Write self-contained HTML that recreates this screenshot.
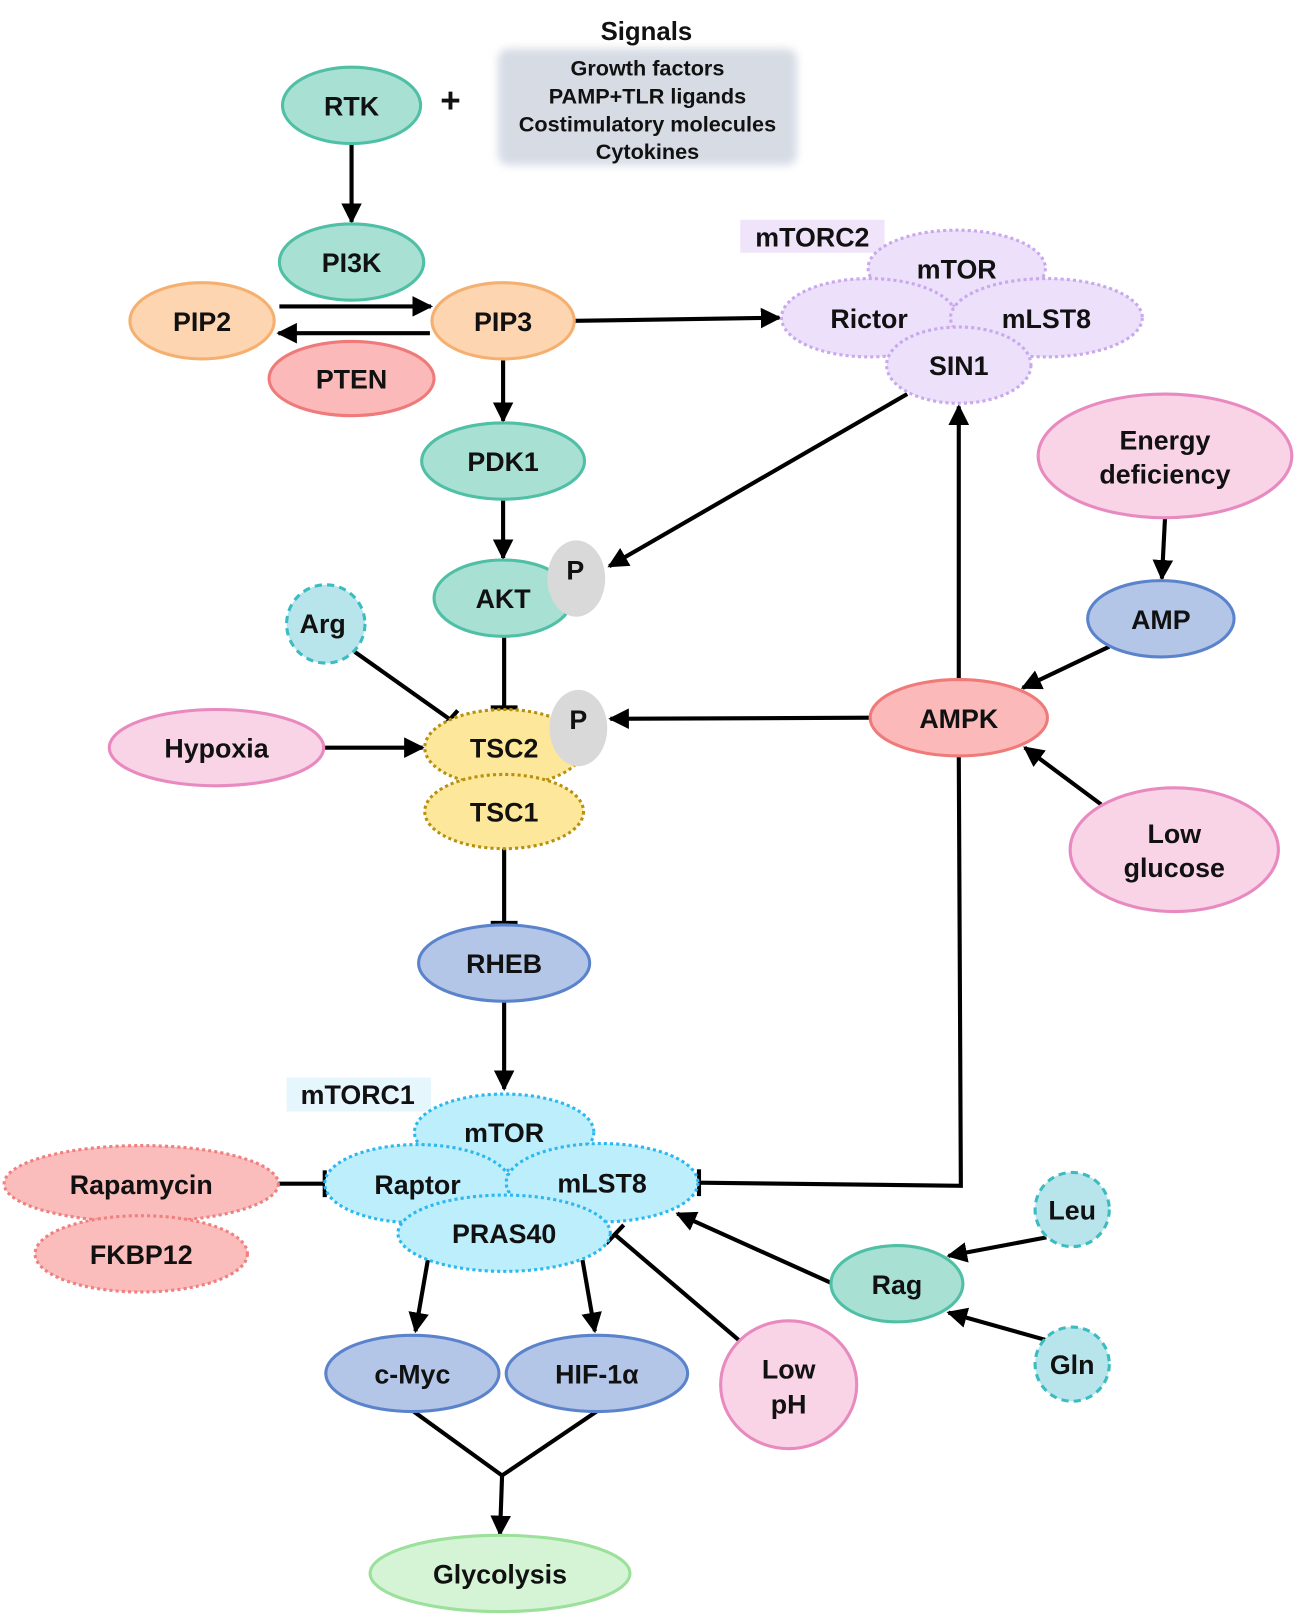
<!DOCTYPE html>
<html><head><meta charset="utf-8"><style>
html,body{margin:0;padding:0;background:#fff}
svg{display:block}
text{font-family:"Liberation Sans",sans-serif;font-weight:bold;fill:#111;text-anchor:middle;dominant-baseline:central}
</style></head><body>
<svg width="1299" height="1619" viewBox="0 0 1260 1570" xmlns="http://www.w3.org/2000/svg">
<defs>
<marker id="a" viewBox="0 0 10 10" refX="9" refY="5" markerWidth="5" markerHeight="5" orient="auto-start-reverse" markerUnits="strokeWidth"><path d="M0,0L10,5L0,10z" fill="#000"/></marker>
<filter id="bl"><feGaussianBlur stdDeviation="4"/></filter>
</defs>
<g stroke="#000" stroke-width="4" fill="none">
<line x1="341" y1="139" x2="341" y2="215" marker-end="url(#a)"/>
<line x1="271" y1="297" x2="418" y2="297" marker-end="url(#a)"/>
<line x1="417" y1="323" x2="270" y2="323" marker-end="url(#a)"/>
<line x1="558" y1="311" x2="756" y2="308" marker-end="url(#a)"/>
<line x1="488" y1="348" x2="488" y2="408" marker-end="url(#a)"/>
<line x1="488" y1="484" x2="488" y2="541" marker-end="url(#a)"/>
<line x1="880" y1="382" x2="591" y2="549" marker-end="url(#a)"/>
<line x1="489" y1="617" x2="489" y2="686"/><line x1="476" y1="686" x2="502" y2="686"/>
<line x1="344" y1="632" x2="437" y2="698"/><line x1="429" y1="706" x2="444" y2="689"/>
<line x1="314" y1="725" x2="410" y2="725" marker-end="url(#a)"/>
<line x1="845" y1="696" x2="592" y2="697" marker-end="url(#a)"/>
<line x1="930" y1="659" x2="930" y2="394" marker-end="url(#a)"/>
<line x1="1130" y1="503" x2="1127" y2="561" marker-end="url(#a)"/>
<line x1="1076" y1="627" x2="992" y2="667" marker-end="url(#a)"/>
<line x1="1068" y1="780" x2="994" y2="725" marker-end="url(#a)"/>
<line x1="489" y1="823" x2="489" y2="895"/><line x1="476" y1="895" x2="502" y2="895"/>
<line x1="489" y1="971" x2="489" y2="1056" marker-end="url(#a)"/>
<line x1="270" y1="1148" x2="315" y2="1148"/><line x1="315" y1="1135" x2="315" y2="1161"/>
<polyline points="930,733 932,1150 678,1147"/><line x1="678" y1="1134" x2="678" y2="1160"/>
<line x1="1015" y1="1200" x2="920" y2="1218" marker-end="url(#a)"/>
<line x1="1016" y1="1300" x2="920" y2="1273" marker-end="url(#a)"/>
<line x1="808" y1="1245" x2="657" y2="1177" marker-end="url(#a)"/>
<line x1="717" y1="1300" x2="596" y2="1197"/><line x1="588" y1="1206" x2="605" y2="1188"/>
<line x1="415" y1="1222" x2="403" y2="1291" marker-end="url(#a)"/>
<line x1="565" y1="1222" x2="577" y2="1291" marker-end="url(#a)"/>
<polyline points="400,1368 487,1431 580,1368"/>
<line x1="487" y1="1431" x2="485" y2="1488" marker-end="url(#a)"/>
</g>
<rect x="483" y="47" width="290" height="113" rx="10" fill="#d6dbe4" filter="url(#bl)"/>
<text x="627" y="31" font-size="25">Signals</text>
<text x="628" y="66" font-size="21">Growth factors</text>
<text x="628" y="93" font-size="21">PAMP+TLR ligands</text>
<text x="628" y="120" font-size="21">Costimulatory molecules</text>
<text x="628" y="147" font-size="21">Cytokines</text>
<text x="437" y="98" font-size="34">+</text>
<g stroke-width="3">
<ellipse cx="341" cy="102" rx="67" ry="37" fill="#a8e0d4" stroke="#4fbfa5"/>
<ellipse cx="341" cy="254" rx="70" ry="37" fill="#a8e0d4" stroke="#4fbfa5"/>
<ellipse cx="196" cy="311" rx="70" ry="37" fill="#fdd5b0" stroke="#f5b070"/>
<ellipse cx="488" cy="311" rx="69" ry="37" fill="#fdd5b0" stroke="#f5b070"/>
<ellipse cx="341" cy="367" rx="80" ry="36" fill="#fbb9b9" stroke="#f07a7a"/>
<ellipse cx="488" cy="447" rx="79" ry="37" fill="#a8e0d4" stroke="#4fbfa5"/>
<ellipse cx="488" cy="580" rx="67" ry="37" fill="#a8e0d4" stroke="#4fbfa5"/>
<ellipse cx="559" cy="561" rx="28" ry="37" fill="#d9d9d9" stroke="none"/>
<rect x="718" y="213" width="140" height="32" fill="#f0e4fb"/>
<g fill="#ece0fa" stroke="#c9a8ee" stroke-dasharray="3,3">
<ellipse cx="928" cy="260" rx="86" ry="37"/>
<ellipse cx="843" cy="308" rx="85" ry="38"/>
<ellipse cx="1015" cy="308" rx="93" ry="38"/>
<ellipse cx="930" cy="354" rx="70" ry="37"/>
</g>
<ellipse cx="1130" cy="442" rx="123" ry="60" fill="#f9d3e6" stroke="#e88ac0"/>
<ellipse cx="1126" cy="600" rx="71" ry="37" fill="#b4c6e7" stroke="#5b83cc"/>
<ellipse cx="930" cy="696" rx="86" ry="37" fill="#fbb9b9" stroke="#f07a7a"/>
<ellipse cx="1139" cy="824" rx="101" ry="60" fill="#f9d3e6" stroke="#e88ac0"/>
<circle cx="316" cy="605" r="38" fill="#b8e4ec" stroke="#3bbcc0" stroke-dasharray="7,5"/>
<ellipse cx="210" cy="725" rx="104" ry="37" fill="#f9d3e6" stroke="#e88ac0"/>
<g fill="#fde79a" stroke="#b8900f" stroke-dasharray="3,3">
<ellipse cx="489" cy="725" rx="77" ry="37"/>
<ellipse cx="489" cy="787" rx="77" ry="36"/>
</g>
<ellipse cx="561" cy="706" rx="28" ry="37" fill="#d9d9d9" stroke="none"/>
<ellipse cx="489" cy="934" rx="83" ry="37" fill="#b4c6e7" stroke="#5b83cc"/>
<rect x="278" y="1045" width="140" height="33" fill="#e6f6fd"/>
<g fill="#bdeefc" stroke="#2bb8f0" stroke-dasharray="3,3">
<ellipse cx="489" cy="1098" rx="87" ry="37"/>
<ellipse cx="405" cy="1148" rx="90" ry="38"/>
<ellipse cx="584" cy="1147" rx="93" ry="38"/>
<ellipse cx="489" cy="1196" rx="103" ry="37"/>
</g>
<g fill="#fbbcbc" stroke="#f08080" stroke-dasharray="3,3">
<ellipse cx="137" cy="1148" rx="133" ry="37"/>
<ellipse cx="137" cy="1216" rx="103" ry="37"/>
</g>
<circle cx="1040" cy="1173" r="36" fill="#b8e4ec" stroke="#3bbcc0" stroke-dasharray="7,5"/>
<circle cx="1040" cy="1323" r="36" fill="#b8e4ec" stroke="#3bbcc0" stroke-dasharray="7,5"/>
<ellipse cx="870" cy="1245" rx="64" ry="37" fill="#a8e0d4" stroke="#4fbfa5"/>
<ellipse cx="765" cy="1343" rx="66" ry="62" fill="#f9d3e6" stroke="#e88ac0"/>
<ellipse cx="400" cy="1332" rx="84" ry="37" fill="#b4c6e7" stroke="#5b83cc"/>
<ellipse cx="579" cy="1332" rx="88" ry="37" fill="#b4c6e7" stroke="#5b83cc"/>
<ellipse cx="485" cy="1526" rx="126" ry="37" fill="#d5f4d5" stroke="#9be09b"/>
</g>
<g font-size="26">
<text x="341" y="103">RTK</text>
<text x="341" y="255">PI3K</text>
<text x="196" y="312">PIP2</text>
<text x="488" y="312">PIP3</text>
<text x="341" y="368">PTEN</text>
<text x="488" y="448">PDK1</text>
<text x="488" y="581">AKT</text>
<text x="558" y="553">P</text>
<text x="788" y="230">mTORC2</text>
<text x="928" y="261">mTOR</text>
<text x="843" y="309">Rictor</text>
<text x="1015" y="309">mLST8</text>
<text x="930" y="355">SIN1</text>
<text x="1130" y="427">Energy</text>
<text x="1130" y="460">deficiency</text>
<text x="1126" y="601">AMP</text>
<text x="930" y="697">AMPK</text>
<text x="1139" y="809">Low</text>
<text x="1139" y="842">glucose</text>
<text x="313" y="605">Arg</text>
<text x="210" y="726">Hypoxia</text>
<text x="489" y="726">TSC2</text>
<text x="489" y="788">TSC1</text>
<text x="561" y="698">P</text>
<text x="489" y="935">RHEB</text>
<text x="347" y="1062">mTORC1</text>
<text x="489" y="1099">mTOR</text>
<text x="405" y="1149">Raptor</text>
<text x="584" y="1148">mLST8</text>
<text x="489" y="1197">PRAS40</text>
<text x="137" y="1149">Rapamycin</text>
<text x="137" y="1217">FKBP12</text>
<text x="1040" y="1174">Leu</text>
<text x="1040" y="1324">Gln</text>
<text x="870" y="1246">Rag</text>
<text x="765" y="1328">Low</text>
<text x="765" y="1362">pH</text>
<text x="400" y="1333">c-Myc</text>
<text x="579" y="1333">HIF-1α</text>
<text x="485" y="1527">Glycolysis</text>
</g>
</svg>
</body></html>
